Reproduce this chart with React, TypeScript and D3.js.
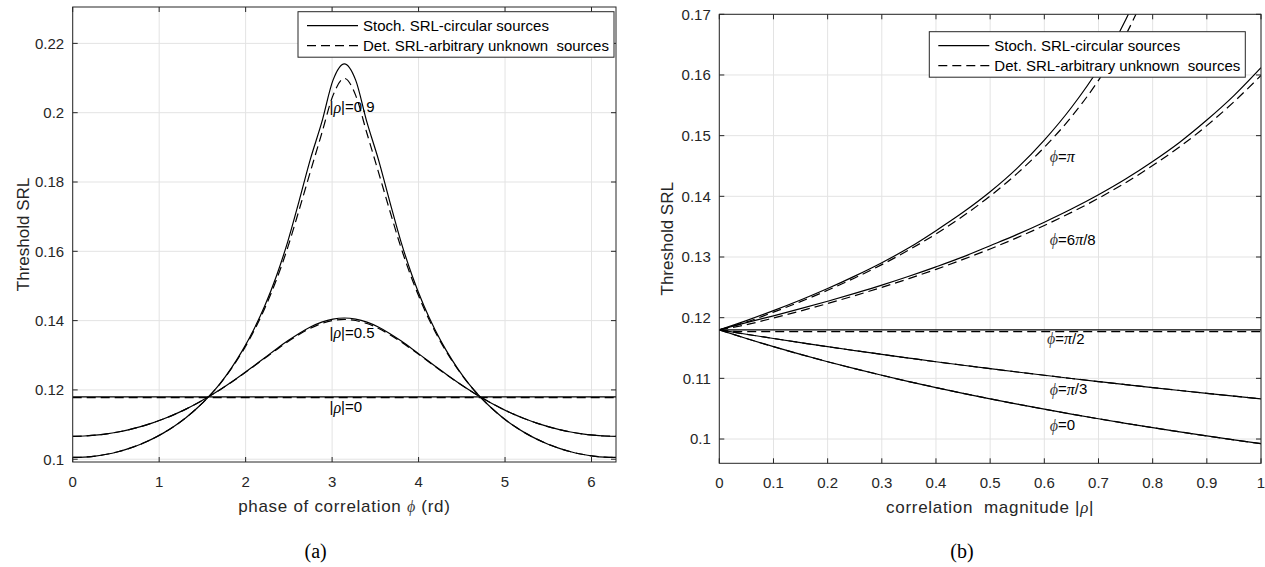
import React from 'react';
import * as d3 from 'd3';

// ---------- Panel (a): threshold SRL vs phase of correlation ----------
const PHI = [0, 0.1309, 0.2618, 0.3927, 0.5236, 0.6545, 0.7854, 0.9163, 1.0472, 1.1781, 1.309, 1.4399, 1.5708, 1.7017, 1.8326, 1.9635, 2.0944, 2.2253, 2.3562, 2.4871, 2.618, 2.7489, 2.8798, 3.0107, 3.1416, 3.2725, 3.4034, 3.5343, 3.6652, 3.7961, 3.927, 4.0579, 4.1888, 4.3197, 4.4506, 4.5815, 4.7124, 4.8433, 4.9742, 5.1051, 5.236, 5.3669, 5.4978, 5.6287, 5.7596, 5.8905, 6.0214, 6.1523, 6.2832];

const RHO09_STOCH = [0.10051, 0.10061, 0.10092, 0.10143, 0.10217, 0.10313, 0.10433, 0.10579, 0.10753, 0.10958, 0.11198, 0.11477, 0.118, 0.12174, 0.12622, 0.1314, 0.13743, 0.14448, 0.15287, 0.16281, 0.1745, 0.1866, 0.1972, 0.2094, 0.2141, 0.2094, 0.1972, 0.1866, 0.1745, 0.16281, 0.15287, 0.14448, 0.13743, 0.1314, 0.12622, 0.12174, 0.118, 0.11477, 0.11198, 0.10958, 0.10753, 0.10579, 0.10433, 0.10313, 0.10217, 0.10143, 0.10092, 0.10061, 0.10051];
const RHO09_DET = [0.10051, 0.10061, 0.10092, 0.10143, 0.10217, 0.10313, 0.10433, 0.10579, 0.10753, 0.10958, 0.11198, 0.11477, 0.118, 0.1217, 0.12605, 0.13108, 0.13694, 0.14378, 0.1518, 0.16112, 0.1719, 0.183, 0.194, 0.205, 0.2099, 0.205, 0.194, 0.183, 0.1719, 0.16112, 0.1518, 0.14378, 0.13694, 0.13108, 0.12605, 0.1217, 0.118, 0.11477, 0.11198, 0.10958, 0.10753, 0.10579, 0.10433, 0.10313, 0.10217, 0.10143, 0.10092, 0.10061, 0.10051];
const RHO05_STOCH = [0.10662, 0.1067, 0.10693, 0.10731, 0.10785, 0.10854, 0.1094, 0.11042, 0.1116, 0.11295, 0.11446, 0.11615, 0.118, 0.12003, 0.12221, 0.12451, 0.12693, 0.12938, 0.13182, 0.13416, 0.1363, 0.13815, 0.13956, 0.14045, 0.14075, 0.14045, 0.13956, 0.13815, 0.1363, 0.13416, 0.13182, 0.12938, 0.12693, 0.12451, 0.12221, 0.12003, 0.118, 0.11615, 0.11446, 0.11295, 0.1116, 0.11042, 0.1094, 0.10854, 0.10785, 0.10731, 0.10693, 0.1067, 0.10662];
const RHO05_DET = [0.10662, 0.1067, 0.10693, 0.10731, 0.10785, 0.10854, 0.1094, 0.11042, 0.1116, 0.11295, 0.11446, 0.11615, 0.118, 0.12001, 0.12216, 0.12443, 0.1268, 0.12921, 0.1316, 0.13389, 0.13598, 0.13778, 0.13916, 0.14003, 0.14033, 0.14003, 0.13916, 0.13778, 0.13598, 0.13389, 0.1316, 0.12921, 0.1268, 0.12443, 0.12216, 0.12001, 0.118, 0.11615, 0.11446, 0.11295, 0.1116, 0.11042, 0.1094, 0.10854, 0.10785, 0.10731, 0.10693, 0.1067, 0.10662];
const PHI_ENDS = [0, 6.2832];
const RHO0_STOCH = [0.118, 0.118];
const RHO0_DET = [0.1178, 0.1178];

const A_X_TICKS = [0, 1, 2, 3, 4, 5, 6];
const A_Y_TICKS = [0.1, 0.12, 0.14, 0.16, 0.18, 0.2, 0.22];

// ---------- Panel (b): threshold SRL vs correlation magnitude ----------
const RHO = [0, 0.05, 0.1, 0.15, 0.2, 0.25, 0.3, 0.35, 0.4, 0.45, 0.5, 0.55, 0.6, 0.65, 0.7, 0.75, 0.8, 0.85, 0.9, 0.95, 1];
const RHO_TO_08 = [0, 0.05, 0.1, 0.15, 0.2, 0.25, 0.3, 0.35, 0.4, 0.45, 0.5, 0.55, 0.6, 0.65, 0.7, 0.75, 0.8];
const RHO_ENDS = [0, 1];
const RHO_PI2_DET_X = [0, 0.04, 1];

const PHIPI_STOCH = [0.118, 0.11952, 0.12116, 0.12291, 0.1248, 0.12685, 0.12906, 0.13151, 0.13434, 0.13736, 0.14075, 0.14465, 0.14927, 0.15464, 0.16103, 0.16905, 0.17927];
const PHIPI_DET = [0.118, 0.11928, 0.12091, 0.12264, 0.12452, 0.12655, 0.12874, 0.13116, 0.1338, 0.13675, 0.14005, 0.14378, 0.14808, 0.1531, 0.15912, 0.16655, 0.1761];
const PHI6PI8_STOCH = [0.118, 0.11919, 0.1203, 0.12148, 0.12271, 0.12401, 0.12537, 0.12683, 0.12838, 0.13002, 0.13186, 0.13373, 0.13574, 0.1379, 0.14026, 0.14285, 0.14574, 0.14892, 0.15257, 0.1566, 0.1612];
const PHI6PI8_DET = [0.118, 0.11885, 0.11994, 0.12111, 0.12234, 0.12363, 0.125, 0.12644, 0.12797, 0.1296, 0.13133, 0.13319, 0.13519, 0.13735, 0.13968, 0.14224, 0.14507, 0.14817, 0.15165, 0.15558, 0.15992];
const PHIPI2_STOCH = [0.118, 0.118];
const PHIPI2_DET = [0.118, 0.1177, 0.1177];
const PHIPI3_STOCH = [0.118, 0.11727, 0.11657, 0.11589, 0.11522, 0.11458, 0.11395, 0.11334, 0.11274, 0.11216, 0.1116, 0.11105, 0.11051, 0.10998, 0.10947, 0.10897, 0.10848, 0.108, 0.10753, 0.10707, 0.10662];
const PHIPI3_DET = [0.118, 0.11727, 0.11657, 0.11589, 0.11522, 0.11458, 0.11395, 0.11334, 0.11274, 0.11216, 0.1116, 0.11105, 0.11051, 0.10998, 0.10947, 0.10897, 0.10848, 0.108, 0.10753, 0.10707, 0.10662];
const PHI0_STOCH = [0.118, 0.11657, 0.11522, 0.11395, 0.11274, 0.1116, 0.11051, 0.10947, 0.10848, 0.10753, 0.10662, 0.10575, 0.10492, 0.10411, 0.10334, 0.10259, 0.10187, 0.10118, 0.10051, 0.09986, 0.09923];
const PHI0_DET = [0.118, 0.11657, 0.11522, 0.11395, 0.11274, 0.1116, 0.11051, 0.10947, 0.10848, 0.10753, 0.10662, 0.10575, 0.10492, 0.10411, 0.10334, 0.10259, 0.10187, 0.10118, 0.10051, 0.09986, 0.09923];

const B_X_TICKS = [0, 0.1, 0.2, 0.3, 0.4, 0.5, 0.6, 0.7, 0.8, 0.9, 1];
const B_Y_TICKS = [0.1, 0.11, 0.12, 0.13, 0.14, 0.15, 0.16, 0.17];

const LEGEND_LABELS = ['Stoch. SRL-circular sources', 'Det. SRL-arbitrary unknown  sources'];

const SANS = "'Liberation Sans', Arial, Helvetica, sans-serif";
const SERIF = "'Liberation Serif', 'Times New Roman', serif";
const AX = '#262626';
const GRID = '#e3e3e3';
const DASH = '9,5';
const TICK_FS = 15;
const TITLE_FS = 17;

type Series = { xs: number[]; ys: number[]; dashed: boolean };

const zip = (xs: number[], ys: number[]) => xs.map((x, i) => [x, ys[i]] as [number, number]);

function Panel(props: {
  id: string;
  px: [number, number];
  py: [number, number];
  xDomain: [number, number];
  yDomain: [number, number];
  xTicks: number[];
  yTicks: number[];
  xFmt: (v: number) => string;
  yFmt: (v: number) => string;
  series: Series[];
  legendX: number;
  legendY: number;
  yTitleX: number;
  xTitle: React.ReactNode;
  annotations: { x: number; y: number; content: React.ReactNode }[];
  caption: string;
  captionX: number;
}) {
  const { px, py } = props;
  const x = d3.scaleLinear().domain(props.xDomain).range(px);
  const y = d3.scaleLinear().domain(props.yDomain).range(py);
  const line = d3
    .line<[number, number]>()
    .x((d) => x(d[0]))
    .y((d) => y(d[1]))
    .curve(d3.curveMonotoneX);
  const top = py[1];
  const bottom = py[0];
  const left = px[0];
  const right = px[1];
  const tick = 5;
  const lgW = 316;
  const lgH = 45.5;
  return (
    <g>
      <defs>
        <clipPath id={props.id}>
          <rect x={left} y={top} width={right - left} height={bottom - top} />
        </clipPath>
      </defs>
      <rect x={left} y={top} width={right - left} height={bottom - top} fill="#fff" />
      {props.xTicks.map((t) => (
        <line key={'gx' + t} x1={x(t)} x2={x(t)} y1={top} y2={bottom} stroke={GRID} strokeWidth={1} />
      ))}
      {props.yTicks.map((t) => (
        <line key={'gy' + t} x1={left} x2={right} y1={y(t)} y2={y(t)} stroke={GRID} strokeWidth={1} />
      ))}
      <g clipPath={`url(#${props.id})`}>
        {props.series.map((s, i) => (
          <path
            key={i}
            d={line(zip(s.xs, s.ys)) || ''}
            fill="none"
            stroke="#000"
            strokeWidth={1.2}
            strokeDasharray={s.dashed ? DASH : undefined}
          />
        ))}
      </g>
      {props.annotations.map((a, i) => (
        <text key={i} x={x(a.x)} y={y(a.y)} dominantBaseline="central" fontFamily={SANS} fontSize={TICK_FS} fill="#000" style={{ whiteSpace: 'pre' }}>
          {a.content}
        </text>
      ))}
      <rect x={left} y={top} width={right - left} height={bottom - top} fill="none" stroke={AX} strokeWidth={1} />
      {props.xTicks.map((t) => (
        <g key={'tx' + t}>
          <line x1={x(t)} x2={x(t)} y1={bottom} y2={bottom - tick} stroke={AX} />
          <line x1={x(t)} x2={x(t)} y1={top} y2={top + tick} stroke={AX} />
          <text x={x(t)} y={bottom + 24.7} textAnchor="middle" fontFamily={SANS} fontSize={TICK_FS} fill={AX}>
            {props.xFmt(t)}
          </text>
        </g>
      ))}
      {props.yTicks.map((t) => (
        <g key={'ty' + t}>
          <line x1={left} x2={left + tick} y1={y(t)} y2={y(t)} stroke={AX} />
          <line x1={right} x2={right - tick} y1={y(t)} y2={y(t)} stroke={AX} />
          <text x={left - 8.5} y={y(t) + 5.3} textAnchor="end" fontFamily={SANS} fontSize={TICK_FS} fill={AX}>
            {props.yFmt(t)}
          </text>
        </g>
      ))}
      <text
        transform={`translate(${props.yTitleX},${(top + bottom) / 2}) rotate(-90)`}
        textAnchor="middle"
        fontFamily={SANS}
        fontSize={TITLE_FS}
        fill={AX}
      >
        Threshold SRL
      </text>
      <text x={(left + right) / 2} y={bottom + 49.5} textAnchor="middle" fontFamily={SANS} fontSize={TITLE_FS} letterSpacing={0.7} fill={AX} style={{ whiteSpace: 'pre' }}>
        {props.xTitle}
      </text>
      <rect x={props.legendX} y={props.legendY} width={lgW} height={lgH} fill="#fff" stroke={AX} strokeWidth={1} />
      {LEGEND_LABELS.map((lab, i) => {
        const cy = props.legendY + 14 + i * 20;
        return (
          <g key={lab}>
            <line x1={props.legendX + 9} x2={props.legendX + 60} y1={cy} y2={cy} stroke="#000" strokeWidth={1.2} strokeDasharray={i === 1 ? DASH : undefined} />
            <text x={props.legendX + 65} y={cy} dominantBaseline="central" fontFamily={SANS} fontSize={TICK_FS} fill="#000" style={{ whiteSpace: 'pre' }}>
              {lab}
            </text>
          </g>
        );
      })}
      <text x={props.captionX} y={558} textAnchor="middle" fontFamily={SERIF} fontSize={20} fill="#000">
        {props.caption}
      </text>
    </g>
  );
}

const Rho = () => (
  <>
    |<tspan fontFamily={SERIF} fontStyle="italic" fontSize={16}>ρ</tspan>|
  </>
);
const Phi = () => (
  <tspan fontFamily={SERIF} fontStyle="italic" fontSize={16} fill="#3a3a3a">ϕ</tspan>
);
const Pi = () => (
  <tspan fontFamily={SERIF} fontStyle="italic" fontSize={16}>π</tspan>
);

export default function App() {
  const fmt2 = (v: number) => String(+v.toFixed(2));
  const fmt1 = (v: number) => String(+v.toFixed(1));
  const seriesA: Series[] = [
    { xs: PHI_ENDS, ys: RHO0_STOCH, dashed: false },
    { xs: PHI, ys: RHO05_STOCH, dashed: false },
    { xs: PHI, ys: RHO09_STOCH, dashed: false },
    { xs: PHI_ENDS, ys: RHO0_DET, dashed: true },
    { xs: PHI, ys: RHO05_DET, dashed: true },
    { xs: PHI, ys: RHO09_DET, dashed: true },
  ];
  const seriesB: Series[] = [
    { xs: RHO_TO_08, ys: PHIPI_STOCH, dashed: false },
    { xs: RHO, ys: PHI6PI8_STOCH, dashed: false },
    { xs: RHO_ENDS, ys: PHIPI2_STOCH, dashed: false },
    { xs: RHO, ys: PHIPI3_STOCH, dashed: false },
    { xs: RHO, ys: PHI0_STOCH, dashed: false },
    { xs: RHO_TO_08, ys: PHIPI_DET, dashed: true },
    { xs: RHO, ys: PHI6PI8_DET, dashed: true },
    { xs: RHO_PI2_DET_X, ys: PHIPI2_DET, dashed: true },
    { xs: RHO, ys: PHIPI3_DET, dashed: true },
    { xs: RHO, ys: PHI0_DET, dashed: true },
  ];
  return (
    <svg width={1265} height={567} style={{ position: 'absolute', left: 0, top: 0, background: '#fff' }}>
      <rect width={1265} height={567} fill="#fff" />
      <Panel
        id="clipA"
        px={[72.7, 616]}
        py={[462, 7]}
        xDomain={[0, 6.2832]}
        yDomain={[0.0992, 0.2305]}
        xTicks={A_X_TICKS}
        yTicks={A_Y_TICKS}
        xFmt={(v) => String(v)}
        yFmt={fmt2}
        series={seriesA}
        legendX={298}
        legendY={11.7}
        yTitleX={28.5}
        xTitle={<>phase of correlation <Phi /> (rd)</>}
        annotations={[
          { x: 2.97, y: 0.2017, content: <><Rho />=0.9</> },
          { x: 2.97, y: 0.13665, content: <><Rho />=0.5</> },
          { x: 2.97, y: 0.11518, content: <><Rho />=0</> },
        ]}
        caption="(a)"
        captionX={315.6}
      />
      <Panel
        id="clipB"
        px={[719.3, 1261]}
        py={[463.3, 14.3]}
        xDomain={[0, 1]}
        yDomain={[0.096, 0.17]}
        xTicks={B_X_TICKS}
        yTicks={B_Y_TICKS}
        xFmt={fmt1}
        yFmt={fmt2}
        series={seriesB}
        legendX={929.3}
        legendY={31.7}
        yTitleX={673}
        xTitle={<>correlation  magnitude |<tspan fontFamily={SERIF} fontStyle="italic">ρ</tspan>|</>}
        annotations={[
          { x: 0.61, y: 0.14657, content: <><Phi />=<Pi /></> },
          { x: 0.61, y: 0.13296, content: <><Phi />=6<Pi />/8</> },
          { x: 0.605, y: 0.11664, content: <><Phi />=<Pi />/2</> },
          { x: 0.61, y: 0.10829, content: <><Phi />=<Pi />/3</> },
          { x: 0.61, y: 0.10236, content: <><Phi />=0</> },
        ]}
        caption="(b)"
        captionX={962}
      />
    </svg>
  );
}
